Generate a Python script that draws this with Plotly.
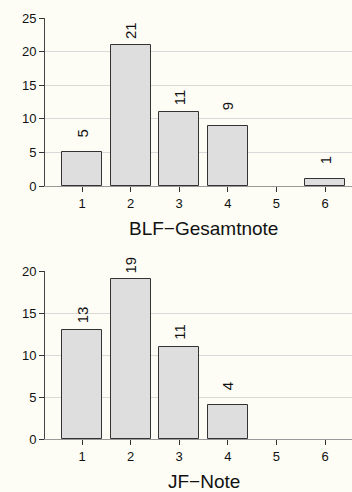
import plotly.graph_objects as go

categories = [1, 2, 3, 4, 5, 6]
blf_values = [5, 21, 11, 9, 0, 1]
jf_values = [13, 19, 11, 4, 0, 0]
blf_title = "BLF\u2212Gesamtnote"
jf_title = "JF\u2212Note"
blf_yticks = [0, 5, 10, 15, 20, 25]
jf_yticks = [0, 5, 10, 15, 20]

W, H = 352, 492
BG = "#fdfdf6"
FONT = "Liberation Sans, Arial, Helvetica, sans-serif"

fig = go.Figure()

def px_y(p):
    return (H - p) / H

panels = [
    dict(vals=blf_values, title=blf_title, xa="x", ya="y"),
    dict(vals=jf_values, title=jf_title, xa="x2", ya="y2"),
]

# x range: tick 1 at px 82, tick 6 at px 325, plot from px 45 to 352
ppu = (325 - 82) / 5.0
x_lo = 1 - (82 - 45) / ppu
x_hi = 6 + (352 - 325) / ppu

annotations = []
for i, p in enumerate(panels):
    fig.add_trace(go.Bar(
        x=categories, y=[v if v > 0 else None for v in p["vals"]], width=0.82,
        marker=dict(color="#dedede", line=dict(color="#333333", width=1)),
        xaxis=p["xa"], yaxis=p["ya"], showlegend=False, hoverinfo="skip",
    ))
    for c, v in zip(categories, p["vals"]):
        if v > 0:
            annotations.append(dict(
                x=c, y=v, xref=p["xa"], yref=p["ya"], text=str(v),
                textangle=-90, showarrow=False, xanchor="center", yanchor="top",
                yshift=25, font=dict(size=15, color="#111111", family=FONT),
            ))
    annotations.append(dict(
        x=3.5, y=0, xref=p["xa"], yref=p["ya"], text=p["title"], showarrow=False,
        xanchor="center", yanchor="middle", yshift=-42,
        font=dict(size=19, color="#111111", family=FONT),
    ))

common_x = dict(
    range=[x_lo, x_hi], domain=[45 / W, 1.0], tickvals=categories,
    ticks="outside", ticklen=5, tickcolor="#333333", tickwidth=1,
    showline=True, linecolor="#999999", linewidth=1, showgrid=False, zeroline=False,
    tickfont=dict(size=13, color="#111111", family=FONT), fixedrange=True,
    automargin=False,
)
common_y = dict(
    ticks="outside", ticklen=5, tickcolor="#333333", tickwidth=1,
    showline=True, linecolor="#444444", linewidth=1,
    showgrid=True, gridcolor="#d9d9d9", gridwidth=1, zeroline=False,
    tickfont=dict(size=13, color="#111111", family=FONT), fixedrange=True,
    automargin=False,
)

fig.update_layout(
    width=W, height=H, margin=dict(l=0, r=0, t=0, b=0, pad=0), autosize=False,
    paper_bgcolor=BG, plot_bgcolor=BG, bargap=0,
    xaxis=dict(common_x, anchor="y"),
    xaxis2=dict(common_x, anchor="y2"),
    yaxis=dict(common_y, range=[0, 25], tickvals=blf_yticks, domain=[px_y(186), px_y(18)], anchor="x"),
    yaxis2=dict(common_y, range=[0, 20], tickvals=jf_yticks, domain=[px_y(439), px_y(271)], anchor="x2"),
    annotations=annotations,
    font=dict(family=FONT),
)

fig.write_html(
    "out.html",
    config={"displayModeBar": False},
    post_script=(
        "document.documentElement.style.margin='0';"
        "document.documentElement.style.overflow='hidden';"
        "document.body.style.margin='0';"
        "document.body.style.overflow='hidden';"
        "document.body.style.background='" + BG + "';"
    ),
)
